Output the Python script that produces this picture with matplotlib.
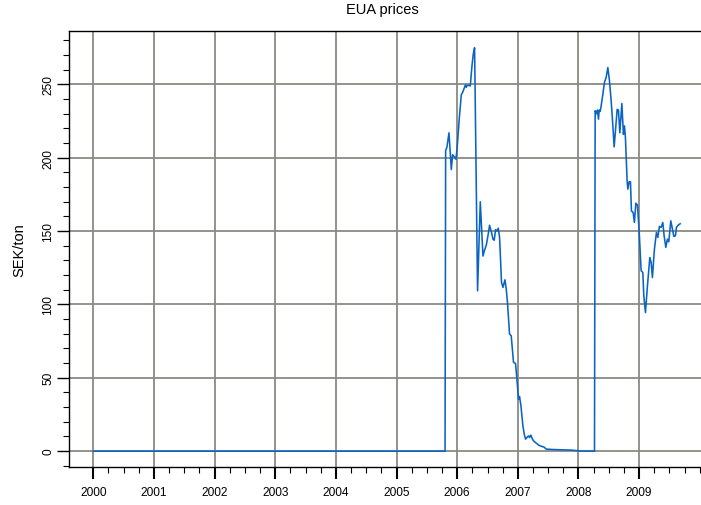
import numpy as np
import matplotlib
matplotlib.use("Agg")
import matplotlib.pyplot as plt
from matplotlib.ticker import FixedLocator

plt.rcParams['font.family'] = ['Liberation Sans', 'DejaVu Sans']

# Weekly EUA price observations (decimal year, SEK/ton)
years = [
    2000.0, 2005.80,
    2005.81, 2005.83, 2005.865, 2005.903, 2005.924, 2005.947, 2005.980, 2006.002,
    2006.035, 2006.068, 2006.089, 2006.112, 2006.134, 2006.150, 2006.166, 2006.216,
    2006.244, 2006.265, 2006.287, 2006.336, 2006.381, 2006.425, 2006.447, 2006.480,
    2006.512, 2006.534, 2006.567, 2006.590, 2006.611, 2006.633, 2006.656, 2006.677,
    2006.699, 2006.731, 2006.755, 2006.788, 2006.809, 2006.830, 2006.863, 2006.891,
    2006.929, 2006.962, 2006.985, 2007.012, 2007.028, 2007.051, 2007.084, 2007.106,
    2007.127, 2007.160, 2007.183, 2007.193, 2007.216, 2007.237, 2007.259, 2007.303,
    2007.348, 2007.397, 2007.435, 2007.468, 2007.588, 2007.891, 2008.028, 2008.264,
    2008.275, 2008.297, 2008.313, 2008.330, 2008.341, 2008.358, 2008.374, 2008.402,
    2008.428, 2008.456, 2008.484, 2008.511, 2008.539, 2008.567, 2008.588, 2008.616,
    2008.638, 2008.659, 2008.682, 2008.715, 2008.741, 2008.758, 2008.774, 2008.802,
    2008.814, 2008.835, 2008.857, 2008.873, 2008.901, 2008.922, 2008.946, 2008.972,
    2009.000, 2009.033, 2009.061, 2009.077, 2009.104, 2009.137, 2009.176, 2009.198,
    2009.219, 2009.252, 2009.285, 2009.308, 2009.334, 2009.362, 2009.390, 2009.412,
    2009.440, 2009.466, 2009.489, 2009.522, 2009.549, 2009.572, 2009.598, 2009.615,
    2009.643, 2009.676,
]
prices = [
    0.0, 0.0,
    205, 207, 217, 192, 202, 201, 199, 208,
    227, 243, 244.5, 247, 249.5, 248, 249.5, 249,
    262.6, 270.6, 275, 109.3, 170, 133, 136.5, 140.4,
    148, 154, 149, 144.5, 143.8, 151, 150, 152,
    145.7, 115, 111.6, 116.8, 110.4, 101, 80, 78.6,
    60.5, 59.8, 49, 35.4, 37.3, 31, 17, 11.6,
    8.2, 9.8, 10.4, 9.3, 10.9, 8.6, 7, 5.5,
    4, 3.2, 2.7, 1.4, 1.1, 0.7, 0.1, 0.0,
    232, 230, 232.5, 226.3, 232.5, 231.6, 235.4, 243.4,
    251.3, 254.7, 261.5, 252.4, 238.8, 221.7, 207.4, 221.7,
    233, 232.5, 217, 237, 216, 221.7, 213.8, 184,
    178.6, 183.6, 183.6, 163.8, 162.7, 155.9, 169, 167.7,
    150.2, 123, 121.8, 105.9, 94.5, 112.7, 132, 128.6,
    118.4, 137.7, 149, 145.7, 153.2, 152.5, 155.9, 146.8,
    138.9, 144.5, 142.7, 157, 151.3, 146.4, 146.8, 152.5,
    154, 155,
]

year_ticks = list(range(2000, 2010))
year_labels = [str(y) for y in year_ticks]
price_ticks = [0, 50, 100, 150, 200, 250]

fig = plt.figure(figsize=(7.01, 5.06), dpi=100)
ax = fig.add_axes([69 / 701, 1 - 468.3 / 506, 1 - 69 / 701, (468.3 - 32) / 506])

grid_color = '#8a8a82'
for yr in year_ticks:
    ax.axvline(yr, color=grid_color, lw=1.3, zorder=1)
for p in price_ticks:
    ax.axhline(p, color=grid_color, lw=1.3, zorder=1)

ax.plot(years, prices, color='#0a64c4', lw=1.15, zorder=3)

ax.set_xlim(1999.6, 2010.02)
ax.set_ylim(-11, 286.4)

ax.xaxis.set_major_locator(FixedLocator(year_ticks))
ax.set_xticklabels(year_labels)
ax.xaxis.set_minor_locator(FixedLocator(np.arange(2000, 2010.01, 0.25)))
ax.yaxis.set_major_locator(FixedLocator(price_ticks))
ax.yaxis.set_minor_locator(FixedLocator(np.arange(-10, 281, 10)))

ax.tick_params(axis='x', which='major', length=8.6, width=1.5, pad=5, labelsize=8.6, direction='out')
ax.tick_params(axis='x', which='minor', length=4.3, width=0.8, direction='out')
ax.tick_params(axis='y', which='major', length=8.6, width=1.0, pad=2, labelsize=8.6, direction='out')
ax.tick_params(axis='y', which='minor', length=4.3, width=0.8, direction='out')
for lbl in ax.get_yticklabels():
    lbl.set_rotation(90)
    lbl.set_va('center')

for side in ('left', 'top', 'bottom'):
    ax.spines[side].set_color('black')
    ax.spines[side].set_linewidth(1.0)
ax.spines['right'].set_visible(False)

ax.set_ylabel('SEK/ton', fontsize=10.5, va='center')
ax.yaxis.set_label_coords(-0.079, 0.5)
fig.text(0.546, 1 - 10 / 506, 'EUA prices', ha='center', va='center', fontsize=10.5)

fig.savefig('out.png', dpi=100)
